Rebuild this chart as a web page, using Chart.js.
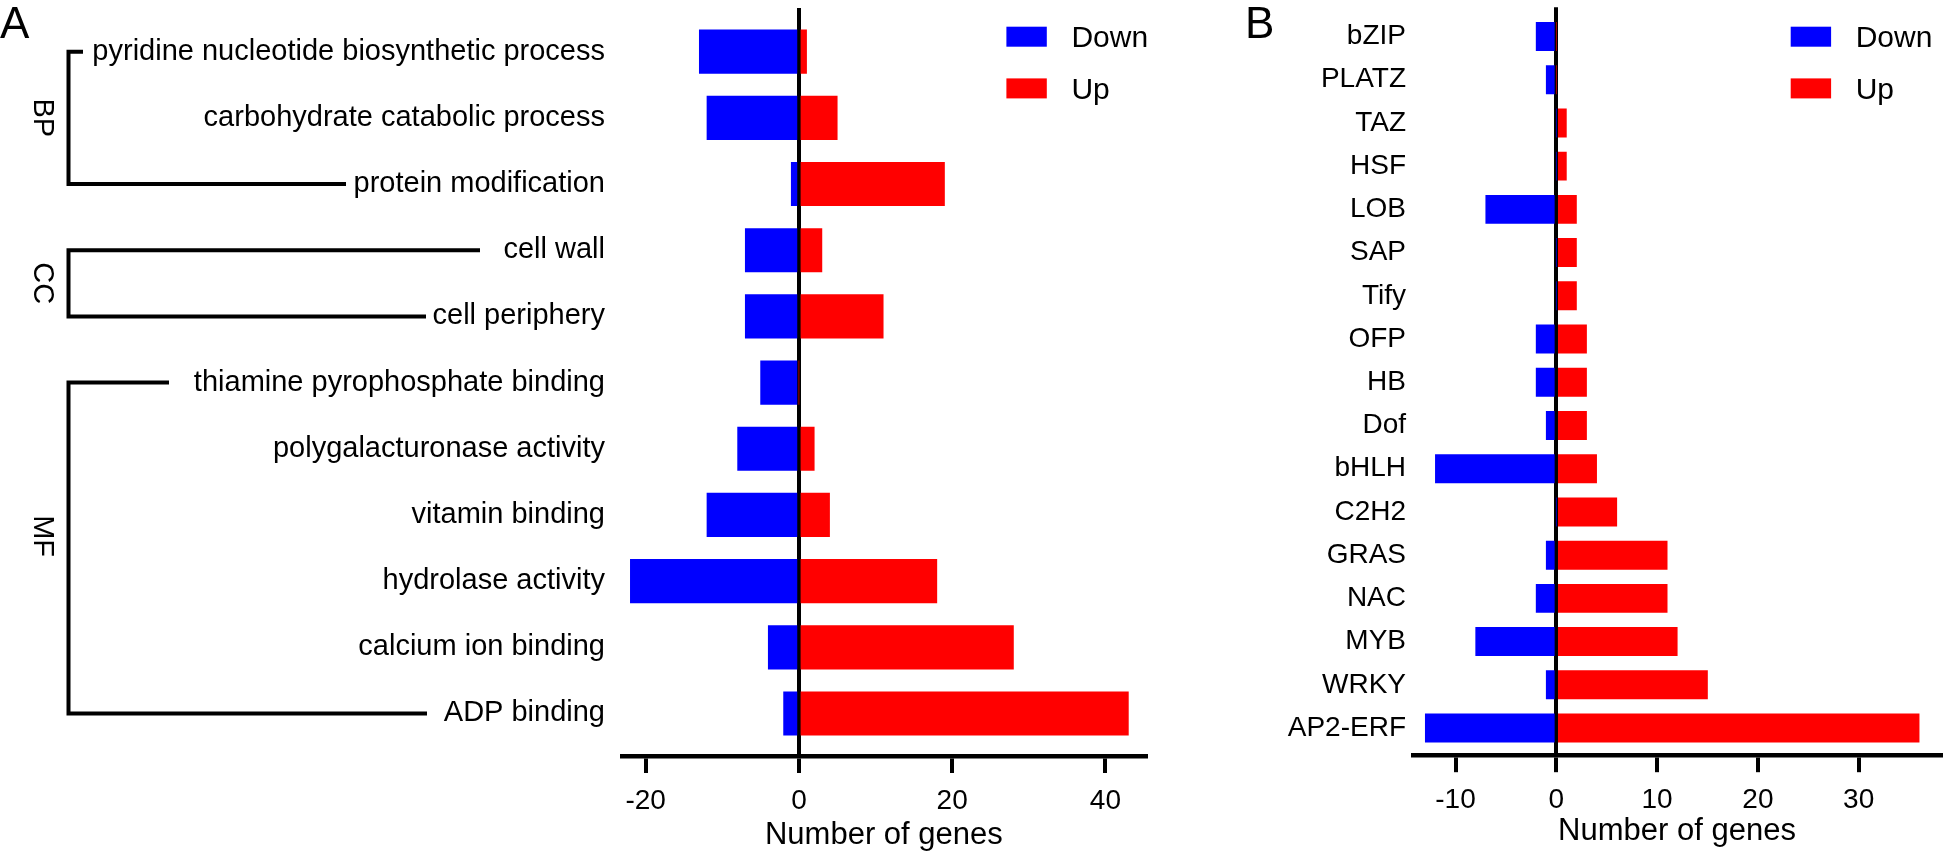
<!DOCTYPE html>
<html>
<head>
<meta charset="utf-8">
<script src="https://cdn.jsdelivr.net/npm/chart.js@4.4.0/dist/chart.umd.min.js"></script>
<style>
  html, body { margin: 0; padding: 0; background: #fff; }
  #wrap { position: relative; width: 1943px; height: 854px; overflow: hidden; }
  canvas { position: absolute; top: 0; }
  #chartA { left: 0; }
  #chartB { left: 1175px; }
</style>
</head>
<body>
<div id="wrap">
  <canvas id="chartA" width="1175" height="854"></canvas>
  <canvas id="chartB" width="768" height="854"></canvas>
</div>
<script>
// panel A: GO terms
const termsA = [
  "pyridine nucleotide biosynthetic process",
  "carbohydrate catabolic process",
  "protein modification",
  "cell wall",
  "cell periphery",
  "thiamine pyrophosphate binding",
  "polygalacturonase activity",
  "vitamin binding",
  "hydrolase activity",
  "calcium ion binding",
  "ADP binding"
];
const downA = [-13, -12, -1, -7, -7, -5, -8, -12, -22, -4, -2];
const upA = [1, 5, 19, 3, 11, 0, 2, 4, 18, 28, 43];
const ticksA = [-20, 0, 20, 40];
const groupNames = ["BP", "CC", "MF"];
const groupFirst = [0, 3, 5];
const groupLast = [2, 4, 10];

// panel B: TF families
const familiesB = ["bZIP", "PLATZ", "TAZ", "HSF", "LOB", "SAP", "Tify", "OFP", "HB", "Dof",
  "bHLH", "C2H2", "GRAS", "NAC", "MYB", "WRKY", "AP2-ERF"];
const downB = [-2, -1, 0, 0, -7, 0, 0, -2, -2, -1, -12, 0, -1, -2, -8, -1, -13];
const upB = [0, 0, 1, 1, 2, 2, 2, 3, 3, 3, 4, 6, 11, 11, 12, 15, 36];
const ticksB = [-10, 0, 10, 20, 30];

const FONT = "'Liberation Sans', Arial, sans-serif";
const BLUE = "#0000ff";
const RED = "#ff0000";

Chart.defaults.font.family = FONT;
Chart.defaults.color = "#000";

// panel letter, legend and GO brackets
const decor = {
  id: "decor",
  afterDraw(chart, args, opts) {
    const ctx = chart.ctx;
    const y = chart.scales.y;
    ctx.save();
    ctx.fillStyle = "#000";
    ctx.textAlign = "left";
    ctx.textBaseline = "alphabetic";
    ctx.font = "44px " + FONT;
    ctx.fillText(opts.letter, opts.letterX, 38.3);

    ctx.font = "30px " + FONT;
    ctx.textBaseline = "middle";
    chart.data.datasets.forEach((ds, i) => {
      const top = 26.7 + i * 51.7;
      ctx.fillStyle = ds.backgroundColor;
      ctx.fillRect(opts.legendX, top, 40.4, 20);
      ctx.fillStyle = "#000";
      ctx.fillText(ds.label, opts.legendX + 65, top + 12.2);
    });

    if (opts.groups) {
      ctx.strokeStyle = "#000";
      ctx.lineWidth = 4;
      ctx.lineJoin = "miter";
      ctx.lineCap = "butt";
      opts.groups.forEach((g, i) => {
        const y1 = y.getPixelForValue(groupFirst[i]);
        const y2 = y.getPixelForValue(groupLast[i]);
        ctx.beginPath();
        ctx.moveTo(g.topEnd, y1);
        ctx.lineTo(68.5, y1);
        ctx.lineTo(68.5, y2);
        ctx.lineTo(g.bottomEnd, y2);
        ctx.stroke();

        ctx.save();
        ctx.translate(41.5, y.getPixelForValue(g.at));
        ctx.rotate(Math.PI / 2);
        ctx.textAlign = "center";
        ctx.textBaseline = "middle";
        ctx.font = "29px " + FONT;
        ctx.fillText(groupNames[i], 0, 0);
        ctx.restore();
      });
    }
    ctx.restore();
  }
};

function makeChart(el, cfg) {
  return new Chart(el, {
    type: "bar",
    data: {
      datasets: [
        { label: "Down", data: cfg.down.map((v, i) => ({ x: v, y: i })), backgroundColor: BLUE },
        { label: "Up", data: cfg.up.map((v, i) => ({ x: v, y: i })), backgroundColor: RED }
      ]
    },
    options: {
      indexAxis: "y",
      responsive: false,
      animation: false,
      devicePixelRatio: 1,
      events: [],
      datasets: { bar: { grouped: false, barThickness: cfg.barThickness, borderWidth: 0 } },
      layout: { padding: { left: 0, right: cfg.padRight, top: cfg.padTop, bottom: 0 } },
      scales: {
        x: {
          type: "linear",
          min: cfg.xMin,
          max: cfg.xMax,
          offset: false,
          z: 1,
          afterBuildTicks: (s) => { s.ticks = cfg.ticks.map((v) => ({ value: v })); },
          afterFit: (s) => {
            s.height = cfg.xHeight;
            s.paddingLeft = 0;
            s.paddingRight = 0;
          },
          border: { display: true, color: "#000", width: 4.5 },
          grid: {
            drawOnChartArea: true,
            offset: false,
            color: (c) => (c.tick && c.tick.value === 0 ? "#000" : "rgba(0,0,0,0)"),
            tickColor: "#000",
            lineWidth: 4,
            tickWidth: 4,
            tickLength: 16.5
          },
          ticks: { padding: 11, color: "#000", font: { size: 28 } },
          title: {
            display: true,
            text: "Number of genes",
            color: "#000",
            font: { size: 31 },
            padding: { top: 0, bottom: cfg.titlePad }
          }
        },
        y: {
          type: "linear",
          reverse: true,
          offset: false,
          min: cfg.yMin,
          max: cfg.yMax,
          afterBuildTicks: (s) => { s.ticks = cfg.labels.map((_, i) => ({ value: i })); },
          afterFit: (s) => {
            s.width = cfg.yWidth;
            s.paddingTop = 0;
            s.paddingBottom = 0;
          },
          grid: { display: false, drawTicks: false, offset: false },
          border: { display: false },
          ticks: {
            autoSkip: false,
            padding: cfg.labelPad,
            color: "#000",
            font: { size: cfg.labelSize },
            callback: (v) => cfg.labels[v]
          }
        }
      },
      plugins: {
        legend: { display: false },
        tooltip: { enabled: false },
        decor: cfg.decor
      }
    },
    plugins: [decor]
  });
}

makeChart(document.getElementById("chartA"), {
  labels: termsA, down: downA, up: upA, ticks: ticksA,
  xMin: -23.09, xMax: 45.26, yMin: -0.66, yMax: 10.65,
  barThickness: 43.5, padRight: 29.3, padTop: 8, xHeight: 97.5,
  yWidth: 622, labelPad: 17, labelSize: 29, titlePad: 0,
  decor: {
    letter: "A", letterX: 0, legendX: 1006.4,
    groups: [
      { at: 1, topEnd: 83, bottomEnd: 346 },
      { at: 3.5, topEnd: 480, bottomEnd: 426 },
      { at: 7.32, topEnd: 169, bottomEnd: 427 }
    ]
  }
});

makeChart(document.getElementById("chartB"), {
  labels: familiesB, down: downB, up: upB, ticks: ticksB,
  xMin: -14.22, xMax: 38.17, yMin: -0.675, yMax: 16.64,
  barThickness: 28.3, padRight: 2, padTop: 7.3, xHeight: 98.3,
  yWidth: 238, labelPad: 7, labelSize: 28, titlePad: 4,
  decor: { letter: "B", letterX: 70, legendX: 615.7 }
});
</script>
</body>
</html>
